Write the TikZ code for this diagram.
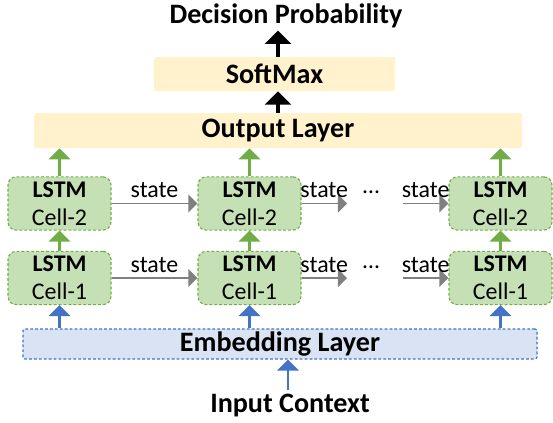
\documentclass[tikz,border=0pt]{standalone}
\usepackage{fontspec}
\setmainfont{Carlito}
\usetikzlibrary{arrows}

\definecolor{cellfill}{HTML}{C5E0B4}
\definecolor{celledge}{HTML}{70AD47}
\definecolor{embfill}{HTML}{DAE3F3}
\definecolor{embedge}{HTML}{4472C4}
\definecolor{layerfill}{HTML}{FFF2CC}
\definecolor{stategray}{HTML}{808080}

\tikzset{
  cellbox/.style={minimum width=2.575cm, minimum height=1.33cm, inner sep=0pt, align=center, draw=celledge, fill=cellfill, line width=0.8pt, dash pattern=on 2pt off 1.5pt, rounded corners=0.2cm, font=\fontsize{17}{20}\selectfont},
  layerbox/.style={inner sep=0pt, fill=layerfill, rounded corners=0.05cm, font=\fontsize{20}{24}\selectfont\bfseries},
  embbox/.style={inner sep=0pt, draw=embedge, fill=embfill, line width=0.8pt, dash pattern=on 2pt off 1.5pt, rounded corners=0.05cm, font=\fontsize{20}{24}\selectfont\bfseries},
  titletext/.style={inner sep=2pt, font=\fontsize{20}{24}\selectfont\bfseries},
  statetext/.style={text=black, font=\fontsize{17}{20}\selectfont},
  blkarrow/.style={-triangle 90, line width=2.4pt, black},
  greenarrow/.style={-triangle 90, line width=1.8pt, celledge},
  bluearrow/.style={-triangle 90, line width=1.8pt, embedge},
  statearrow/.style={-triangle 90, line width=1.3pt, stategray}
}

\begin{document}
\begin{tikzpicture}
\useasboundingbox (0, 0) rectangle (13.825, 10.55);

% Top layers
\node[titletext, anchor=base] (dec) at (7.15, 9.975) {Decision Probability};
\node[layerbox, minimum width=6.025cm, minimum height=0.85cm] (soft) at (6.8625, 8.7) {SoftMax};
\node[layerbox, minimum width=12.2cm, minimum height=0.875cm] (outl) at (6.95, 7.2875) {Output Layer};
\draw[blkarrow] (outl.north) -- (outl.north |- soft.south);
\draw[blkarrow] (soft.north -| outl.north) -- (outl.north |- dec.south);

% LSTM cells, upper row
\node[cellbox] (cellA2) at (1.4875, 5.4625) {\textbf{LSTM}\\Cell-2};
\node[cellbox] (cellB2) at (6.2375, 5.4625) {\textbf{LSTM}\\Cell-2};
\node[cellbox] (cellC2) at (12.5125, 5.4625) {\textbf{LSTM}\\Cell-2};

% LSTM cells, lower row
\node[cellbox] (cellA1) at (1.4875, 3.6) {\textbf{LSTM}\\Cell-1};
\node[cellbox] (cellB1) at (6.2375, 3.6) {\textbf{LSTM}\\Cell-1};
\node[cellbox] (cellC1) at (12.5125, 3.6) {\textbf{LSTM}\\Cell-1};

% Bottom layers
\node[embbox, minimum width=12.85cm, minimum height=0.75cm] (emb) at (7.0, 1.95) {Embedding Layer};
\node[titletext, anchor=base] (inp) at (7.25, 0.25) {Input Context};
\coordinate (inptip) at (7.2, 1.0);
\draw[bluearrow] (inptip |- inp.north) -- (inptip |- emb.south);

% Cells to output layer
\draw[greenarrow] (cellA2.north) -- (cellA2.north |- outl.south);
\draw[greenarrow] (cellB2.north) -- (cellB2.north |- outl.south);
\draw[greenarrow] (cellC2.north) -- (cellC2.north |- outl.south);

% Cell-1 to Cell-2
\draw[greenarrow] (cellA1.north) -- (cellA2.south);
\draw[greenarrow] (cellB1.north) -- (cellB2.south);
\draw[greenarrow] (cellC1.north) -- (cellC2.south);

% Embedding to cells
\draw[bluearrow] (cellA1.south |- emb.north) -- (cellA1.south);
\draw[bluearrow] (cellB1.south |- emb.north) -- (cellB1.south);
\draw[bluearrow] (cellC1.south |- emb.north) -- (cellC1.south);

% States, upper row
\coordinate (gapA2) at (8.675, 5.5);
\coordinate (gapB2) at (10.075, 5.5);
\draw[statearrow] (cellA2.east) -- node[statetext, above] {state} (cellB2.west);
\draw[statearrow] (cellB2.east) -- node[statetext, above] {state} (gapA2 |- cellB2.east);
\node[statetext, anchor=base] (dotsA2) at (9.275, 5.725) {\ldots};
\draw[statearrow] (gapB2 |- cellC2.west) -- node[statetext, above] {state} (cellC2.west);

% States, lower row
\coordinate (gapA1) at (8.675, 3.6);
\coordinate (gapB1) at (10.075, 3.6);
\draw[statearrow] (cellA1.east) -- node[statetext, above] {state} (cellB1.west);
\draw[statearrow] (cellB1.east) -- node[statetext, above] {state} (gapA1 |- cellB1.east);
\node[statetext, anchor=base] (dotsA1) at (9.275, 3.85) {\ldots};
\draw[statearrow] (gapB1 |- cellC1.west) -- node[statetext, above] {state} (cellC1.west);

\end{tikzpicture}
\end{document}
